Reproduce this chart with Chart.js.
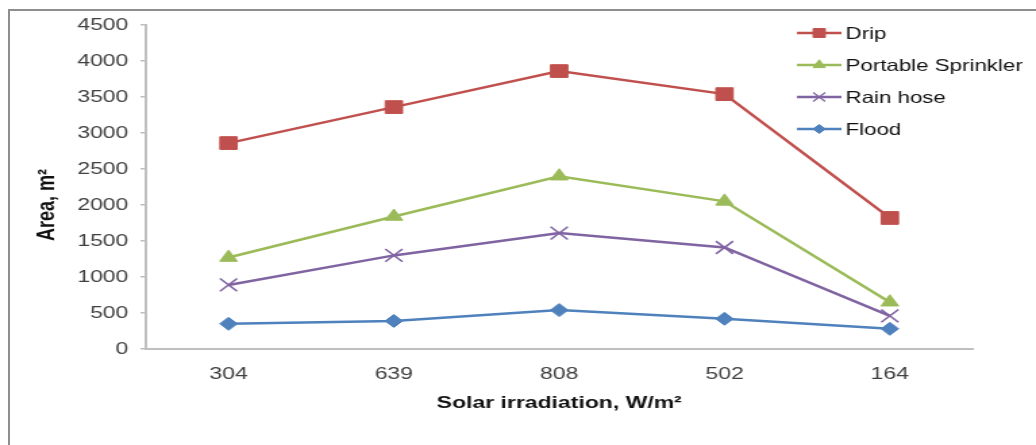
<!DOCTYPE html>
<html>
<head>
<meta charset="utf-8">
<script src="https://cdn.jsdelivr.net/npm/chart.js@4.4.1/dist/chart.umd.min.js"></script>
<style>
  html, body { margin: 0; padding: 0; background: #fff; overflow: hidden; }
  #frame { position: absolute; left: 8px; top: 9px; width: 1100px; height: 500px; border: 2px solid #8e8e8e; }
  /* the reference is stretched sideways, so the chart is drawn narrow and scaled */
  #wrap { position: absolute; left: 0; top: 0; width: 767px; height: 445px; transform: scaleX(1.3507); transform-origin: 0 0; }
</style>
</head>
<body>
<div id="frame"></div>
<div id="wrap"><canvas id="areaChart"></canvas></div>
<script>
// Solar irradiation categories (W/m2) and area values (m2)
const categories = ['304', '639', '808', '502', '164'];
const drip = [2860, 3360, 3860, 3540, 1820];
const sprinkler = [1270, 1840, 2400, 2050, 650];
const rainHose = [890, 1300, 1610, 1410, 460];
const flood = [350, 390, 540, 420, 280];
const yMin = 0;
const yMax = 4500;
const yStep = 500;

const FONT = '"Liberation Sans", Arial, sans-serif';

// Legend drawn at the top right, line + marker like the original
const sideLegend = {
  id: 'sideLegend',
  afterDraw(chart) {
    const ctx = chart.ctx;
    ctx.save();
    chart.data.datasets.forEach((ds, i) => {
      const y = 33 + i * 32;
      ctx.strokeStyle = ds.borderColor;
      ctx.lineWidth = 2.5;
      ctx.beginPath();
      ctx.moveTo(590, y);
      ctx.lineTo(623, y);
      ctx.stroke();
      if (Chart.helpers && Chart.helpers.drawPoint) {
        ctx.fillStyle = ds.borderColor;
        ctx.lineWidth = ds.pointStyle === 'crossRot' ? 1.2 : 1;
        Chart.helpers.drawPoint(ctx, {
          pointStyle: ds.pointStyle,
          radius: ds.pointRadius * 0.7,
          rotation: 0,
          borderWidth: ctx.lineWidth
        }, 606.5, y);
      }
      ctx.fillStyle = '#111';
      ctx.font = '16.5px ' + FONT;
      ctx.textBaseline = 'middle';
      ctx.textAlign = 'left';
      ctx.fillText(ds.label, 626, y + 1);
    });
    ctx.restore();
  }
};

// Y axis title sits a bit below the plot centre in the original
const yTitle = {
  id: 'yTitle',
  afterDraw(chart) {
    const ctx = chart.ctx;
    ctx.save();
    ctx.translate(35.5, 205);
    ctx.rotate(-Math.PI / 2);
    ctx.fillStyle = '#111';
    ctx.font = 'bold 18px ' + FONT;
    ctx.textAlign = 'center';
    ctx.textBaseline = 'middle';
    ctx.fillText('Area, m²', 0, 0);
    ctx.restore();
  }
};

function series(label, data, color, style, radius) {
  return {
    label: label,
    data: data,
    borderColor: color,
    backgroundColor: color,
    borderWidth: 2.5,
    pointStyle: style,
    pointRadius: radius,
    pointBackgroundColor: color,
    pointBorderColor: color,
    pointBorderWidth: style === 'crossRot' ? 1.6 : 1,
    tension: 0,
    fill: false
  };
}

const ctx = document.getElementById('areaChart').getContext('2d');
const areaChart = new Chart(ctx, {
  type: 'line',
  data: {
    labels: categories,
    datasets: [
      series('Drip', drip, '#C0504D', 'rect', 9),
      series('Portable Sprinkler', sprinkler, '#9BBB59', 'triangle', 7.5),
      series('Rain hose', rainHose, '#8064A2', 'crossRot', 9),
      series('Flood', flood, '#4F81BD', 'rectRot', 6.5)
    ]
  },
  options: {
    responsive: true,
    maintainAspectRatio: false,
    animation: false,
    layout: { padding: { left: 15, right: 47, top: 25, bottom: 31 } },
    plugins: {
      legend: { display: false },
      tooltip: { enabled: false }
    },
    scales: {
      x: {
        offset: true,
        afterFit(scale) { scale.height = 65; },
        grid: { display: false, drawTicks: false },
        border: { color: '#bfbfbf', width: 2 },
        ticks: { color: '#404040', font: { family: FONT, size: 17 }, padding: 15 },
        title: {
          display: true,
          text: 'Solar irradiation, W/m²',
          color: '#111',
          font: { family: FONT, size: 17, weight: 'bold' },
          padding: { top: 9, bottom: 0 }
        }
      },
      y: {
        min: yMin,
        max: yMax,
        afterFit(scale) { scale.width = 93; },
        grid: { drawOnChartArea: false, tickLength: 4, color: '#bfbfbf', lineWidth: 1.5 },
        border: { color: '#bfbfbf', width: 2 },
        ticks: {
          stepSize: yStep,
          color: '#404040',
          font: { family: FONT, size: 17 },
          padding: 9,
          callback: v => String(v)
        }
      }
    }
  },
  plugins: [sideLegend, yTitle]
});
</script>
</body>
</html>
